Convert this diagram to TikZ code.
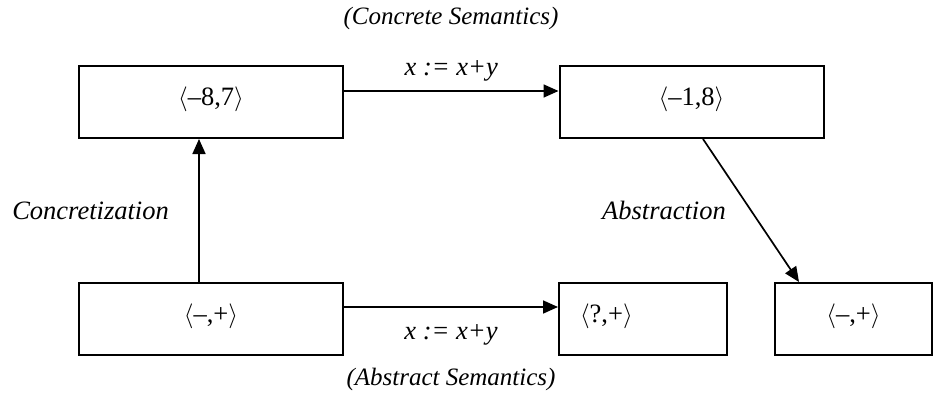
\documentclass[tikz,border=0pt]{standalone}
\usepackage{fontspec}
\setmainfont{Liberation Serif}
\usetikzlibrary{positioning, arrows.meta}

\begin{document}
\begin{tikzpicture}[x=1pt, y=1pt,
    statebox/.style={draw, line width=2pt, minimum width=264pt, minimum height=72pt,
        inner sep=0pt, text height=20pt, text depth=13pt, font=\fontsize{26.5}{30}\selectfont},
    flow/.style={line width=1.7pt, -{Triangle[length=15pt, width=13pt]}},
    lbl/.style={font=\fontsize{26.5}{30}\selectfont\itshape},
    title/.style={font=\fontsize{25}{30}\selectfont\itshape}]
    \useasboundingbox (0,0) rectangle (934,392);
    % concrete states (top row)
    \node[statebox] (conc1) at (211,290) {$\langle$--8,7$\rangle$};
    \node[statebox] (conc2) at (691.5,290) {$\langle$--1,8$\rangle$};
    % abstract states (bottom row)
    \node[statebox] (abs1) at (211,73) {$\langle$--,+$\rangle$};
    \node[statebox, minimum width=168pt, text width=126pt, align=left, inner xsep=21pt] (abs2) at (643,73) {$\langle$?,+$\rangle$};
    \node[statebox, minimum width=157pt] (abs3) at (853.5,73) {$\langle$--,+$\rangle$};
    % titles
    \node[title] (concsem) at (451,374) {(Concrete Semantics)};
    \node[title] (abssem) at (451,13) {(Abstract Semantics)};
    % transitions
    \draw[flow] ([yshift=11pt]conc1.east) -- node[lbl, above=6pt] {x := x+y} ([yshift=11pt]conc2.west);
    \draw[flow] ([yshift=12pt]abs1.east) -- node[lbl, below=13pt] {x := x+y} ([yshift=12pt]abs2.west);
    \draw[flow] ([xshift=-12pt]abs1.north) -- node[lbl, left=26pt] {Concretization} ([xshift=-12pt]conc1.south);
    \draw[flow] ([xshift=11.5pt]conc2.south) -- node[lbl, left=21pt] {Abstraction} ([xshift=-54.5pt]abs3.north);
\end{tikzpicture}
\end{document}
